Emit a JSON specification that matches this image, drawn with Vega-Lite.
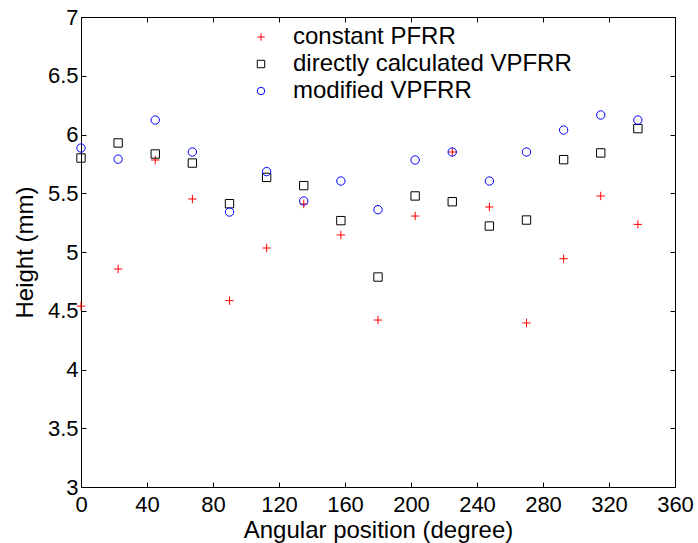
{
  "$schema": "https://vega.github.io/schema/vega-lite/v6.json",
  "autosize": "none",
  "width": 594,
  "height": 470,
  "padding": {"left": 81, "top": 17, "right": 23, "bottom": 56},
  "background": "white",
  "config": {
    "font": "Liberation Sans",
    "view": {"stroke": "black", "strokeWidth": 1},
    "axis": {
      "grid": false,
      "domainColor": "black",
      "tickColor": "black",
      "labelColor": "black",
      "titleColor": "black",
      "labelFont": "Liberation Sans",
      "titleFont": "Liberation Sans",
      "labelFontSize": 22,
      "titleFontSize": 24,
      "titleFontWeight": "normal",
      "tickSize": -5,
      "labelFlush": false,
      "labelOverlap": false
    }
  },
  "data": {
    "values": [
      {"angle": 0, "series": "constant PFRR", "height": 4.54},
      {"angle": 22.5, "series": "constant PFRR", "height": 4.855},
      {"angle": 45, "series": "constant PFRR", "height": 5.783},
      {"angle": 67.5, "series": "constant PFRR", "height": 5.451},
      {"angle": 90, "series": "constant PFRR", "height": 4.586},
      {"angle": 112.5, "series": "constant PFRR", "height": 5.034},
      {"angle": 135, "series": "constant PFRR", "height": 5.409},
      {"angle": 157.5, "series": "constant PFRR", "height": 5.145},
      {"angle": 180, "series": "constant PFRR", "height": 4.421},
      {"angle": 202.5, "series": "constant PFRR", "height": 5.306},
      {"angle": 225, "series": "constant PFRR", "height": 5.851},
      {"angle": 247.5, "series": "constant PFRR", "height": 5.383},
      {"angle": 270, "series": "constant PFRR", "height": 4.396},
      {"angle": 292.5, "series": "constant PFRR", "height": 4.943},
      {"angle": 315, "series": "constant PFRR", "height": 5.477},
      {"angle": 337.5, "series": "constant PFRR", "height": 5.235},
      {"angle": 0, "series": "directly calculated VPFRR", "height": 5.80},
      {"angle": 22.5, "series": "directly calculated VPFRR", "height": 5.928},
      {"angle": 45, "series": "directly calculated VPFRR", "height": 5.834},
      {"angle": 67.5, "series": "directly calculated VPFRR", "height": 5.757},
      {"angle": 90, "series": "directly calculated VPFRR", "height": 5.411},
      {"angle": 112.5, "series": "directly calculated VPFRR", "height": 5.635},
      {"angle": 135, "series": "directly calculated VPFRR", "height": 5.565},
      {"angle": 157.5, "series": "directly calculated VPFRR", "height": 5.267},
      {"angle": 180, "series": "directly calculated VPFRR", "height": 4.787},
      {"angle": 202.5, "series": "directly calculated VPFRR", "height": 5.477},
      {"angle": 225, "series": "directly calculated VPFRR", "height": 5.428},
      {"angle": 247.5, "series": "directly calculated VPFRR", "height": 5.221},
      {"angle": 270, "series": "directly calculated VPFRR", "height": 5.272},
      {"angle": 292.5, "series": "directly calculated VPFRR", "height": 5.786},
      {"angle": 315, "series": "directly calculated VPFRR", "height": 5.843},
      {"angle": 337.5, "series": "directly calculated VPFRR", "height": 6.05},
      {"angle": 0, "series": "modified VPFRR", "height": 5.885},
      {"angle": 22.5, "series": "modified VPFRR", "height": 5.79},
      {"angle": 45, "series": "modified VPFRR", "height": 6.123},
      {"angle": 67.5, "series": "modified VPFRR", "height": 5.851},
      {"angle": 90, "series": "modified VPFRR", "height": 5.34},
      {"angle": 112.5, "series": "modified VPFRR", "height": 5.684},
      {"angle": 135, "series": "modified VPFRR", "height": 5.434},
      {"angle": 157.5, "series": "modified VPFRR", "height": 5.604},
      {"angle": 180, "series": "modified VPFRR", "height": 5.36},
      {"angle": 202.5, "series": "modified VPFRR", "height": 5.783},
      {"angle": 225, "series": "modified VPFRR", "height": 5.851},
      {"angle": 247.5, "series": "modified VPFRR", "height": 5.604},
      {"angle": 270, "series": "modified VPFRR", "height": 5.851},
      {"angle": 292.5, "series": "modified VPFRR", "height": 6.038},
      {"angle": 315, "series": "modified VPFRR", "height": 6.166},
      {"angle": 337.5, "series": "modified VPFRR", "height": 6.123}
    ]
  },
  "resolve": {"axis": {"x": "independent", "y": "independent"}},
  "layer": [
    {
      "mark": {"type": "point", "filled": false, "strokeWidth": 1, "size": 70, "opacity": 1},
      "encoding": {
        "x": {
          "field": "angle", "type": "quantitative",
          "scale": {"domain": [0, 360], "nice": false, "zero": false},
          "axis": {"values": [0, 40, 80, 120, 160, 200, 240, 280, 320, 360], "title": "Angular position (degree)", "labelPadding": 12, "titlePadding": 3}
        },
        "y": {
          "field": "height", "type": "quantitative",
          "scale": {"domain": [3, 7], "nice": false, "zero": false},
          "axis": {"values": [3, 3.5, 4, 4.5, 5, 5.5, 6, 6.5, 7], "format": "~g", "title": "Height (mm)", "labelPadding": 8, "titlePadding": 10}
        },
        "color": {
          "field": "series", "type": "nominal",
          "scale": {"domain": ["constant PFRR", "directly calculated VPFRR", "modified VPFRR"], "range": ["#ff0000", "#000000", "#0000ff"]},
          "legend": {
            "title": null,
            "orient": "none",
            "legendX": 168,
            "legendY": 8,
            "padding": 0,
            "symbolSize": 55,
            "symbolStrokeWidth": 1,
            "symbolFillColor": "transparent",
            "labelFontSize": 24,
            "labelFont": "Liberation Sans",
            "labelColor": "black",
            "labelOffset": 20,
            "labelLimit": 0,
            "rowPadding": 3
          }
        },
        "shape": {
          "field": "series", "type": "nominal",
          "scale": {"domain": ["constant PFRR", "directly calculated VPFRR", "modified VPFRR"], "range": ["M-1,0H1M0,-1V1", "square", "circle"]}
        }
      }
    },
    {
      "mark": {"type": "point", "opacity": 0},
      "encoding": {
        "x": {
          "field": "angle", "type": "quantitative",
          "axis": {"orient": "top", "values": [0, 40, 80, 120, 160, 200, 240, 280, 320, 360], "labels": false, "title": null}
        },
        "y": {
          "field": "height", "type": "quantitative",
          "axis": {"orient": "right", "values": [3, 3.5, 4, 4.5, 5, 5.5, 6, 6.5, 7], "labels": false, "title": null}
        }
      }
    }
  ]
}
